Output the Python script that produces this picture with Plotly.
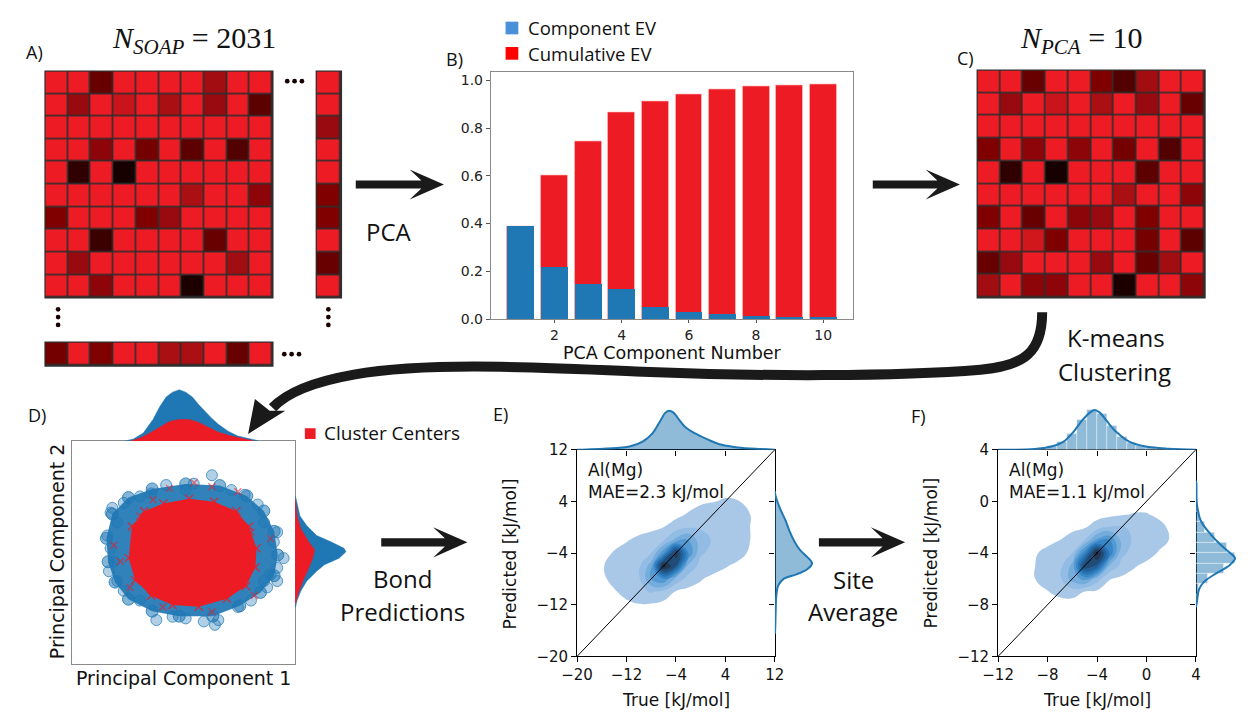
import plotly.graph_objects as go

W, H = 1248, 719

# ---------------------------------------------------------------------------
# Panel A: SOAP descriptor matrix (cell shade, 1 = bright red, 0 = black)
soap_matrix = [
    [1, 1, .40, 1, 1, 1, 1, .65, 1, 1],
    [1, .60, 1, .80, 1, .70, 1, .60, 1, .35],
    [1, 1, 1, 1, 1, 1, 1, 1, 1, 1],
    [1, 1, .55, 1, .45, 1, .35, 1, .30, 1],
    [1, .15, 1, .02, 1, 1, 1, 1, 1, 1],
    [1, 1, 1, 1, 1, 1, .70, 1, 1, .55],
    [.50, 1, 1, 1, .50, .60, 1, 1, 1, 1],
    [1, 1, .20, 1, 1, 1, 1, .40, 1, 1],
    [1, .60, 1, 1, 1, 1, 1, 1, .65, 1],
    [1, 1, .55, 1, 1, 1, .05, 1, 1, 1],
]
soap_last_column = [1, 1, .60, 1, 1, .50, .50, 1, .40, 1]
soap_last_row = [.45, 1, .50, 1, 1, .70, .70, 1, .40, 1]

# Panel C: reduced PCA matrix
pca_matrix = [
    [1, 1, .40, 1, 1, .50, .30, .65, 1, 1],
    [1, .60, 1, .80, 1, .70, 1, .60, 1, .40],
    [1, 1, 1, 1, 1, 1, 1, 1, 1, 1],
    [.50, 1, .55, 1, .55, 1, .45, 1, .30, 1],
    [1, .15, 1, .02, 1, 1, 1, .35, 1, 1],
    [1, 1, 1, 1, 1, 1, .70, 1, 1, .55],
    [.50, 1, .40, 1, .55, .60, 1, .50, 1, 1],
    [1, 1, .85, .50, 1, 1, 1, .45, 1, .35],
    [.40, .60, 1, 1, 1, .60, 1, .40, .65, 1],
    [.65, 1, .55, .55, 1, 1, .05, 1, 1, .55],
]

# Panel B: explained variance per component
pca_components = [1, 2, 3, 4, 5, 6, 7, 8, 9, 10]
component_ev = [0.386, 0.215, 0.144, 0.124, 0.049, 0.030, 0.018, 0.011, 0.008, 0.004]
cumulative_ev = [0.386, 0.601, 0.744, 0.867, 0.913, 0.940, 0.962, 0.973, 0.980, 0.984]

# Panel D: projected SOAP vectors (blue) and cluster centres (red)
cloud_edge_pc1 = [-2.55, -1.97, -1.12, 0.08, 1.30, 2.27, 2.88, 3.25, 3.38, 3.25,
                  2.76, 2.02, 1.05, -0.15, -1.12, -1.97, -2.45, -2.70, -2.76]
cloud_edge_pc2 = [1.38, 1.97, 2.28, 2.46, 2.40, 2.03, 1.49, 0.76, -0.09, -0.83,
                  -1.43, -1.91, -2.28, -2.28, -2.10, -1.67, -1.06, -0.33, 0.51]
cloud_stray_pc1 = [1.02, 0.37, -0.62, -1.15, 0.08, 1.72, 2.19, 2.66, -1.56, -2.14,
                   -2.55, -2.61, -2.37, -2.73, -2.61, -2.49, -2.67, -2.37, -2.14,
                   -1.56, -0.97, -0.39, 0.08, 0.73, 1.13, 1.25, 1.95, 2.42, 3.00,
                   3.36, 2.89, 3.36, 3.24, 3.59, 3.36, 3.12, 2.89]
cloud_stray_pc2 = [2.77, 2.47, 2.42, 2.12, 2.24, 2.24, 2.07, 1.72, 2.01, 1.78,
                   1.60, 1.43, 1.08, 0.61, 0.15, -0.32, -0.67, -1.02, -1.37,
                   -1.72, -2.42, -2.30, -2.36, -2.47, -2.59, -2.42, -1.95, -1.72, -1.25,
                   -1.02, 1.08, 0.73, 0.38, -0.20, -0.55, -0.79, -1.02]
centers_edge_pc1 = [-1.85, -1.40, -0.72, 0.20, 1.10, 1.90, 2.35, 2.62, 2.58, 2.24,
                    1.56, 0.55, -0.39, -1.16, -1.73, -1.96]
centers_edge_pc2 = [0.93, 1.48, 1.76, 1.93, 1.82, 1.48, 0.93, 0.15, -0.53, -1.20,
                    -1.66, -1.94, -1.88, -1.55, -0.99, -0.20]
centers_stray_pc1 = [-0.50, 0.38, 1.02, 1.95, -1.09, 2.42, 3.12, 2.19, 2.54, 1.02,
                     -0.74, -1.91, -2.49, -2.26, -1.56]
centers_stray_pc2 = [2.30, 2.50, 2.36, 2.18, 1.89, 0.73, 0.50, -0.79, -1.54, -2.12,
                     -1.95, -1.25, 0.26, -0.32, 1.31]

# Panel D marginal histograms
pc1_bins_all = [-2.08, -1.79, -1.44, -1.09, -0.85, -0.62, -0.39, -0.15, 0.08, 0.32,
                0.55, 0.78, 1.02, 1.25, 1.60, 1.95, 2.42, 2.66]
pc1_counts_all = [0, 2, 8, 22, 35, 45, 50, 52.5, 50, 45, 37, 30, 23, 17, 10, 5, 1.5, 0.3]
pc1_bins_centers = [-1.9, -1.55, -1.2, -0.85, -0.5, -0.15, 0.2, 0.55, 0.9, 1.25, 1.72, 2.19, 2.54]
pc1_counts_centers = [0, 3, 8, 14, 20, 22, 22, 19, 14, 9, 5, 2, 0]
pc2_bins_all = [2.01, 1.78, 1.31, 0.96, 0.61, 0.38, 0.15, 0.03, -0.2, -0.44, -0.67,
                -1.02, -1.37, -1.72, -1.95]
pc2_counts_all = [0.5, 2, 5, 12, 22, 37, 50, 52, 45, 30, 22, 12, 6, 2, 0.5]
pc2_bins_centers = [1.89, 1.31, 0.84, 0.38, 0.09, -0.2, -0.55, -1.02, -1.48, -1.83]
pc2_counts_centers = [0.5, 2, 6, 14, 20, 18, 14, 8, 3, 0.5]

# Panel E: bond predictions, joint density (rows = predicted, cols = true)
e_true_grid = [-18, -16, -14, -12, -10, -8, -6, -4, -2, 0, 2, 4, 6, 8, 10]
e_pred_grid = [-14, -12, -10, -8, -6, -4, -2, 0, 2, 4, 6]
e_density = [
    [0, 0, 0, 0, 0, 0, 0, 0, 0, 0, 0, 0, 0, 0, 0],
    [0, 0, .01, .03, .045, .04, .02, 0, 0, 0, 0, 0, 0, 0, 0],
    [0, .01, .04, .08, .12, .16, .12, .04, .02, .01, 0, 0, 0, 0, 0],
    [0, .03, .08, .10, .13, .35, .45, .22, .11, .06, .02, 0, 0, 0, 0],
    [.01, .04, .09, .11, .13, .30, 1.0, .75, .22, .12, .10, .06, .02, 0, 0],
    [0, .01, .06, .10, .12, .15, .42, .92, .45, .16, .13, .12, .10, .03, 0],
    [0, 0, .01, .04, .08, .11, .14, .28, .36, .19, .14, .13, .11, .05, .01],
    [0, 0, 0, 0, 0, .02, .05, .10, .14, .14, .13, .13, .11, .05, .01],
    [0, 0, 0, 0, 0, 0, 0, .02, .06, .10, .11, .11, .09, .05, .01],
    [0, 0, 0, 0, 0, 0, 0, 0, 0, .03, .045, .06, .055, .02, 0],
    [0, 0, 0, 0, 0, 0, 0, 0, 0, 0, .01, .02, .01, 0, 0],
]
e_true_kde_x = [-20, -18.4, -13.6, -11.5, -9.4, -7.8, -6.5, -5.7, -5.1, -4.4, -3.6,
                -2.5, -0.9, 1.3, 3.4, 6.0, 9.7, 12]
e_true_kde = [0, 0.3, 1.7, 3.3, 8.3, 16.7, 30, 38, 40, 38, 31.7, 23.3, 16.7, 10, 5, 2.3, 0.7, 0]
e_pred_kde_y = [5.6, 5, 3, 1, -0.6, -2.2, -3.6, -4.6, -5.6, -6.5, -7.3, -8.0, -9,
                -10.6, -13.3, -16, -16.5]
e_pred_kde = [0, 0.5, 5, 11, 15, 20, 26, 33, 38, 33, 22, 9, 3.5, 1.5, 0.8, 0.3, 0]

# Panel F: site-averaged predictions
f_true_grid = [-11, -10, -9, -8, -7, -6, -5, -4, -3, -2, -1, 0, 1, 2, 3]
f_pred_grid = [-9, -8, -7, -6, -5, -4, -3, -2, -1, 0]
f_density = [
    [0, 0, 0, 0, 0, 0, 0, 0, 0, 0, 0, 0, 0, 0, 0],
    [0, 0, 0, .01, .01, 0, .01, 0, 0, 0, 0, 0, 0, 0, 0],
    [0, 0, .02, .045, .08, .10, .045, .03, .01, 0, 0, 0, 0, 0, 0],
    [0, .02, .05, .10, .13, .30, .38, .20, .055, .03, .01, 0, 0, 0, 0],
    [0, .02, .05, .10, .12, .28, .85, .72, .24, .12, .06, .02, 0, 0, 0],
    [0, .01, .04, .08, .11, .15, .50, 1.0, .55, .17, .12, .10, .04, .01, 0],
    [0, 0, 0, .02, .05, .10, .15, .38, .45, .22, .13, .12, .09, .04, .01],
    [0, 0, 0, 0, 0, .02, .04, .10, .16, .16, .13, .11, .08, .03, 0],
    [0, 0, 0, 0, 0, 0, 0, .01, .02, .04, .055, .055, .03, .01, 0],
    [0, 0, 0, 0, 0, 0, 0, 0, 0, 0, .01, .01, 0, 0, 0],
]
f_true_kde_x = [-12, -9.05, -7.7, -6.7, -5.9, -5.2, -4.55, -4.2, -3.8, -3.25, -2.45,
                -1.4, -0.07, 1.8, 4]
f_true_kde = [0, 0.7, 3.3, 8.3, 18.3, 30, 38.3, 40.7, 38.3, 30, 18.3, 8.3, 3.3, 1, 0]
f_pred_kde_y = [1.6, 1.4, -0.17, -1.5, -2.55, -3.34, -4.0, -4.4, -4.9, -5.7, -6.25,
                -6.8, -7.8, -8.2]
f_pred_kde = [0, 0.5, 1, 5, 15, 25, 35, 40, 35, 18, 8, 3.3, 1, 0]
f_hist_bins = [-9.2, -8.4, -7.6, -6.8, -6.0, -5.2, -4.4, -3.6, -2.8, -2.0, -1.2, -0.4, 0.4, 1.2, 2.0]
f_true_hist = [0.6, 1.5, 3.8, 8, 16, 31, 41, 37, 24, 13, 7, 4, 2.5, 1.3, 0.6]
f_pred_hist = [0, 0, 1.2, 3.3, 12, 29, 40, 32, 19, 9, 4, 1.5, 0.8, 0.4, 0]

e_limits = [-20, 12]
e_ticks = [-20, -12, -4, 4, 12]
f_limits = [-12, 4]
f_ticks = [-12, -8, -4, 0, 4]

# ---------------------------------------------------------------------------
BLUE = '#1F77B4'
RED = '#ED1C24'
INK = '#111111'
SANS = 'Open Sans'
MPL = 'DejaVu Sans'

red_scale = [[0, '#120000'], [0.15, '#300000'], [0.3, '#520000'], [0.4, '#680000'],
             [0.5, '#800000'], [0.6, '#990a10'], [0.7, '#aa0f14'], [0.8, '#c8141a'],
             [1, RED]]
kde_scale = [[0, 'rgba(255,255,255,0)'], [0.06, 'rgba(255,255,255,0)'],
             [0.1, '#a9c8e8'], [0.2, '#93bce4'], [0.3, '#74acdc'], [0.4, '#5499d2'],
             [0.5, '#3886c5'], [0.6, '#2773b3'], [0.7, '#22609a'], [0.8, '#224c78'],
             [0.9, '#223854'], [1, '#1d2530']]


def px_x(a, b):
    return [a / W, b / W]


def px_y(top, bottom):
    return [1 - bottom / H, 1 - top / H]


def pt(x, y):
    return x / W, 1 - y / H


def minus(v):
    return str(v).replace('-', '\u2212')


def ax(domain, rng, anchor, **kw):
    base = dict(domain=domain, range=rng, anchor=anchor, showgrid=False, zeroline=False,
                showticklabels=False, ticks='', showline=False, fixedrange=True)
    base.update(kw)
    return base


def label(text, x, y, size, family=SANS, xanchor='center', yanchor='middle', **kw):
    xp, yp = pt(x, y)
    return dict(text=text, x=xp, y=yp, xref='paper', yref='paper', showarrow=False,
                font=dict(size=size, family=family, color=INK),
                xanchor=xanchor, yanchor=yanchor, **kw)


def svg_path(segments, close=False):
    parts = []
    for cmd, pts in segments:
        parts.append(cmd + ' '.join(f'{x / W:.5f},{1 - y / H:.5f}' for x, y in pts))
    return ' '.join(parts) + (' Z' if close else '')


def polygon(points, color):
    segs = [('M', [points[0]])] + [('L', [p]) for p in points[1:]]
    return dict(type='path', xref='paper', yref='paper', path=svg_path(segs, True),
                fillcolor=color, line=dict(width=0), layer='above')


def straight_arrow(x0, x1, y):
    pts = [(x0, y - 4.2), (x1 - 23, y - 4.2), (x1 - 35, y - 15.5), (x1, y),
           (x1 - 35, y + 15.5), (x1 - 23, y + 4.2), (x0, y + 4.2)]
    return polygon(pts, '#1a1a1a')


def dot(cx, cy, r=2.4):
    x0, y0 = pt(cx - r, cy + r)
    x1, y1 = pt(cx + r, cy - r)
    return dict(type='circle', xref='paper', yref='paper', x0=x0, y0=y0, x1=x1, y1=y1,
                fillcolor='#1a0000', line=dict(width=0))


def rect(x0, y0, x1, y1, color, layer='above'):
    a, b = pt(x0, y1)
    c, d = pt(x1, y0)
    return dict(type='rect', xref='paper', yref='paper', x0=a, y0=b, x1=c, y1=d,
                fillcolor=color, line=dict(width=0), layer=layer)


fig = go.Figure()

# --- heat maps (A and C) ---
idx = list(range(10))
hm = dict(colorscale=red_scale, zmin=0, zmax=1, showscale=False, xgap=1.6, ygap=1.6,
          hoverinfo='skip')
fig.add_trace(go.Heatmap(z=soap_matrix, x=idx, y=idx, xaxis='x', yaxis='y', **hm))
fig.add_trace(go.Heatmap(z=[[v] for v in soap_last_column], x=[0], y=idx,
                         xaxis='x2', yaxis='y2', **hm))
fig.add_trace(go.Heatmap(z=[soap_last_row], x=idx, y=[0], xaxis='x3', yaxis='y3', **hm))
fig.add_trace(go.Heatmap(z=pca_matrix, x=idx, y=idx, xaxis='x5', yaxis='y5', **hm))

# --- explained variance bars (B) ---
fig.add_trace(go.Bar(x=pca_components, y=cumulative_ev, width=0.8, xaxis='x4', yaxis='y4',
                     marker=dict(color=RED, line=dict(color='rgba(255,190,190,0.8)', width=0.8))))
fig.add_trace(go.Bar(x=pca_components, y=component_ev, width=0.8, xaxis='x4', yaxis='y4',
                     marker=dict(color=BLUE, line=dict(width=0))))

# --- PCA projection (D) ---
fig.add_trace(go.Scatter(x=cloud_edge_pc1, y=cloud_edge_pc2, fill='toself', mode='markers',
                         fillcolor='rgba(31,119,180,0.92)',
                         marker=dict(size=12, color='rgba(31,119,180,0.55)',
                                     line=dict(color='rgba(31,119,180,0.8)', width=1)),
                         xaxis='x6', yaxis='y6', hoverinfo='skip'))
fig.add_trace(go.Scatter(x=cloud_stray_pc1, y=cloud_stray_pc2, mode='markers',
                         marker=dict(size=11, color='rgba(31,119,180,0.35)',
                                     line=dict(color='rgba(31,119,180,0.7)', width=1)),
                         xaxis='x6', yaxis='y6', hoverinfo='skip'))
fig.add_trace(go.Scatter(x=centers_edge_pc1, y=centers_edge_pc2, fill='toself', mode='markers',
                         fillcolor=RED,
                         marker=dict(symbol='x-thin', size=8,
                                     line=dict(color='rgba(237,28,36,0.8)', width=1.4)),
                         xaxis='x6', yaxis='y6', hoverinfo='skip'))
fig.add_trace(go.Scatter(x=centers_stray_pc1, y=centers_stray_pc2, mode='markers',
                         marker=dict(symbol='x-thin', size=7,
                                     line=dict(color='rgba(237,28,36,0.6)', width=1.3)),
                         xaxis='x6', yaxis='y6', hoverinfo='skip'))
fig.add_trace(go.Scatter(x=pc1_bins_all, y=pc1_counts_all, fill='tozeroy', mode='lines',
                         line=dict(color=BLUE, width=0.5), fillcolor=BLUE,
                         xaxis='x7', yaxis='y7', hoverinfo='skip'))
fig.add_trace(go.Scatter(x=pc1_bins_centers, y=pc1_counts_centers, fill='tozeroy', mode='lines',
                         line=dict(color=RED, width=0.5), fillcolor=RED,
                         xaxis='x7', yaxis='y7', hoverinfo='skip'))
fig.add_trace(go.Scatter(x=pc2_counts_all, y=pc2_bins_all, fill='tozerox', mode='lines',
                         line=dict(color=BLUE, width=0.5), fillcolor=BLUE,
                         xaxis='x8', yaxis='y8', hoverinfo='skip'))
fig.add_trace(go.Scatter(x=pc2_counts_centers, y=pc2_bins_centers, fill='tozerox', mode='lines',
                         line=dict(color=RED, width=0.5), fillcolor=RED,
                         xaxis='x8', yaxis='y8', hoverinfo='skip'))

# --- joint density panels (E, F) ---
contour_style = dict(contours=dict(start=0.05, end=0.95, size=0.1, coloring='fill',
                                   showlines=False),
                     line=dict(width=0, smoothing=1.3), colorscale=kde_scale,
                     showscale=False, hoverinfo='skip')
fig.add_trace(go.Contour(x=e_true_grid, y=e_pred_grid, z=e_density, xaxis='x9', yaxis='y9',
                         **contour_style))
fig.add_trace(go.Scatter(x=e_limits, y=e_limits, mode='lines', line=dict(color='black', width=1),
                         xaxis='x9', yaxis='y9', hoverinfo='skip'))
fig.add_trace(go.Scatter(x=e_true_kde_x, y=e_true_kde, fill='tozeroy', mode='lines',
                         line=dict(color=BLUE, width=2, shape='spline'),
                         fillcolor='rgba(31,119,180,0.5)', xaxis='x10', yaxis='y10'))
fig.add_trace(go.Scatter(x=e_pred_kde, y=e_pred_kde_y, fill='tozerox', mode='lines',
                         line=dict(color=BLUE, width=2, shape='spline'),
                         fillcolor='rgba(31,119,180,0.5)', xaxis='x11', yaxis='y11'))

fig.add_trace(go.Contour(x=f_true_grid, y=f_pred_grid, z=f_density, xaxis='x12', yaxis='y12',
                         **contour_style))
fig.add_trace(go.Scatter(x=f_limits, y=f_limits, mode='lines', line=dict(color='black', width=1),
                         xaxis='x12', yaxis='y12', hoverinfo='skip'))
hist_marker = dict(color='rgba(31,119,180,0.5)', line=dict(color='rgba(255,255,255,0.55)', width=0.7))
fig.add_trace(go.Bar(x=f_hist_bins, y=f_true_hist, width=0.8, xaxis='x13', yaxis='y13',
                     marker=hist_marker))
fig.add_trace(go.Scatter(x=f_true_kde_x, y=f_true_kde, mode='lines',
                         line=dict(color=BLUE, width=2, shape='spline'),
                         xaxis='x13', yaxis='y13'))
fig.add_trace(go.Bar(x=f_pred_hist, y=f_hist_bins, width=0.8, orientation='h',
                     xaxis='x14', yaxis='y14', marker=hist_marker))
fig.add_trace(go.Scatter(x=f_pred_kde, y=f_pred_kde_y, mode='lines',
                         line=dict(color=BLUE, width=2, shape='spline'),
                         xaxis='x14', yaxis='y14'))

# ---------------------------------------------------------------------------
tick_font = dict(family=MPL, size=15, color=INK)
frame = dict(showline=True, linecolor='black', linewidth=1, mirror=True)
gray_frame = dict(showline=True, linecolor='#8a8a8a', linewidth=1.2, mirror=True)
e_ticktext = [minus(v) for v in e_ticks]
f_ticktext = [minus(v) for v in f_ticks]
ev_ticks = [0, 0.2, 0.4, 0.6, 0.8, 1.0]

layout = dict(
    width=W, height=H, autosize=False, margin=dict(l=0, r=0, t=0, b=0),
    paper_bgcolor='white', plot_bgcolor='white', showlegend=False, barmode='overlay',
    bargap=0,
    xaxis=ax(px_x(30, 262), [-0.5, 9.5], 'y'),
    yaxis=ax(px_y(64, 296), [9.5, -0.5], 'x'),
    xaxis2=ax(px_x(307, 332), [-0.5, 0.5], 'y2'),
    yaxis2=ax(px_y(64, 296), [9.5, -0.5], 'x2'),
    xaxis3=ax(px_x(30, 262), [-0.5, 9.5], 'y3'),
    yaxis3=ax(px_y(342, 366), [0.5, -0.5], 'x3'),
    xaxis4=ax(px_x(485, 855), [0.11, 10.89], 'y4', tickvals=[2, 4, 6, 8, 10],
              showticklabels=True, ticks='outside', ticklen=3, tickcolor='#555',
              tickfont=dict(family=MPL, size=14, color='#222'), **gray_frame),
    yaxis4=ax(px_y(65, 318), [0, 1.033], 'x4', tickvals=ev_ticks,
              ticktext=[f'{v:.1f}' for v in ev_ticks],
              showticklabels=True, ticks='outside', ticklen=4, tickcolor='#555',
              tickfont=dict(family=MPL, size=14, color='#222'), **gray_frame),
    xaxis5=ax(px_x(982, 1214), [-0.5, 9.5], 'y5'),
    yaxis5=ax(px_y(63, 296), [9.5, -0.5], 'x5'),
    xaxis6=ax(px_x(57, 285), [-4, 4], 'y6', **gray_frame),
    yaxis6=ax(px_y(443, 672), [-4, 4], 'x6', **gray_frame),
    xaxis7=ax(px_x(57, 285), [-4, 4], 'y7'),
    yaxis7=ax(px_y(385, 443), [0, 58], 'x7'),
    xaxis8=ax(px_x(285, 340), [0, 55], 'y8'),
    yaxis8=ax(px_y(443, 672), [-4, 4], 'x8'),
    xaxis9=ax(px_x(573, 775), e_limits, 'y9', tickvals=e_ticks, ticktext=e_ticktext,
              showticklabels=True, ticks='outside', ticklen=5, tickcolor='black',
              tickfont=tick_font, **frame),
    yaxis9=ax(px_y(452, 664), e_limits, 'x9', tickvals=e_ticks, ticktext=e_ticktext,
              showticklabels=True, ticks='outside', ticklen=5, tickcolor='black',
              tickfont=tick_font, **frame),
    xaxis10=ax(px_x(573, 775), e_limits, 'y10', tickvals=e_ticks[1:-1], ticks='outside',
               ticklen=5, tickcolor='black'),
    yaxis10=ax(px_y(405, 452), [0, 47], 'x10'),
    xaxis11=ax(px_x(775, 820), [0, 45], 'y11'),
    yaxis11=ax(px_y(452, 664), e_limits, 'x11', tickvals=e_ticks[1:-1], ticks='outside',
               ticklen=5, tickcolor='black'),
    xaxis12=ax(px_x(1003, 1205), f_limits, 'y12', tickvals=f_ticks, ticktext=f_ticktext,
               showticklabels=True, ticks='outside', ticklen=5, tickcolor='black',
               tickfont=tick_font, **frame),
    yaxis12=ax(px_y(452, 664), f_limits, 'x12', tickvals=f_ticks, ticktext=f_ticktext,
               showticklabels=True, ticks='outside', ticklen=5, tickcolor='black',
               tickfont=tick_font, **frame),
    xaxis13=ax(px_x(1003, 1205), f_limits, 'y13', tickvals=f_ticks[1:-1], ticks='outside',
               ticklen=5, tickcolor='black'),
    yaxis13=ax(px_y(405, 452), [0, 47], 'x13'),
    xaxis14=ax(px_x(1205, 1248), [0, 43], 'y14'),
    yaxis14=ax(px_y(452, 664), f_limits, 'x14', tickvals=f_ticks[1:-1], ticks='outside',
               ticklen=5, tickcolor='black'),
)

shapes = [
    rect(29, 63, 263, 297, '#2e2e2e', 'below'),
    rect(306, 63, 333, 297, '#2e2e2e', 'below'),
    rect(29, 341, 263, 367, '#2e2e2e', 'below'),
    rect(981, 62, 1215, 297, '#2e2e2e', 'below'),
    # ellipsis dots
    dot(277, 74), dot(284.5, 74), dot(292, 74),
    dot(274, 354), dot(281.5, 354), dot(289, 354),
    dot(43, 308), dot(43, 316), dot(43, 324),
    dot(319, 308), dot(319, 316), dot(319, 324),
    # legend swatches
    rect(500, 13, 513, 26, '#4A90D9'),
    rect(500, 39, 513, 52, '#FF0000'),
    rect(295, 430, 306, 441, RED),
    # straight process arrows
    straight_arrow(347, 437, 180),
    straight_arrow(875, 964, 180),
    straight_arrow(373, 461, 547),
    straight_arrow(820, 908, 547),
    # curved arrow from C to D
    dict(type='path', xref='paper', yref='paper', layer='above',
         path=svg_path([('M', [(1048, 311)]),
                        ('C', [(1048, 352), (1030, 366), (985, 370)]),
                        ('C', [(900, 377), (760, 377), (640, 372)]),
                        ('C', [(520, 367), (420, 362), (345, 375)]),
                        ('C', [(300, 383), (275, 395), (262, 409)])]),
         line=dict(color='#1a1a1a', width=10)),
    polygon([(237, 436), (244, 400), (259, 412), (275, 412)], '#1a1a1a'),
]

annotations = [
    label('A)', 19, 44, 18),
    label('B)', 448, 51, 18),
    label('C)', 970, 50, 18),
    label('D)', 21, 416, 18),
    label('E)', 495, 415, 18),
    label('F)', 922, 417, 18),
    label('<i>N</i><sub><i>SOAP</i></sub> = 2031', 182, 32, 30, family='Liberation Serif'),
    label('<i>N</i><sub><i>PCA</i></sub> = 10', 1088, 32, 30, family='Liberation Serif'),
    label('Component EV', 521, 19, 18.5, xanchor='left'),
    label('Cumulative EV', 521, 46, 18.5, xanchor='left'),
    label('PCA', 381, 228, 24),
    label('K-means', 1123, 337, 24),
    label('Clustering', 1122, 372, 24),
    label('Bond', 395, 584, 24),
    label('Predictions', 395, 618, 24),
    label('Site', 855, 585, 24),
    label('Average', 855, 618, 24),
    label('Cluster Centers', 312, 435, 19, xanchor='left'),
    label('PCA Component Number', 670, 353, 17.5, family=MPL),
    label('Principal Component 1', 171, 686, 19, family=MPL),
    label('Principal Component 2', 42, 557, 19, family=MPL, textangle=-90),
    label('True [kJ/mol]', 674, 709, 17, family=MPL),
    label('Predicted [kJ/mol]', 505, 559, 17, family=MPL, textangle=-90),
    label('True [kJ/mol]', 1104, 709, 17, family=MPL),
    label('Predicted [kJ/mol]', 935, 558, 17, family=MPL, textangle=-90),
    label('Al(Mg)<br>MAE=2.3 kJ/mol', 582, 461, 17, family=MPL, xanchor='left',
          yanchor='top', align='left'),
    label('Al(Mg)<br>MAE=1.1 kJ/mol', 1012, 461, 17, family=MPL, xanchor='left',
          yanchor='top', align='left'),
]

layout['shapes'] = shapes
layout['annotations'] = annotations
fig.update_layout(**layout)
fig.write_html('out.html')
